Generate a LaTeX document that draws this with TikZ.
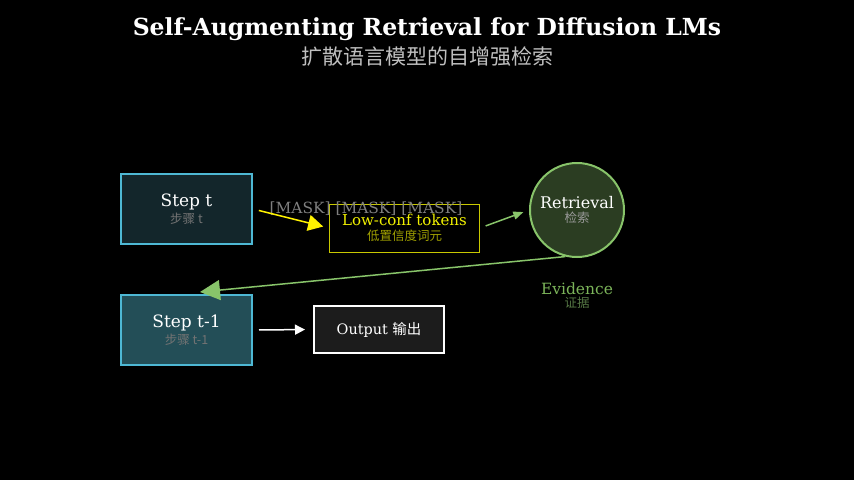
\documentclass[tikz,border=0pt]{standalone}
\usepackage{fontspec}
\setmainfont{DejaVu Serif}
\newfontfamily\cjk{Noto Sans CJK SC}
\usetikzlibrary{arrows.meta}
\usepackage{xcolor}
\definecolor{bgblack}{HTML}{000000}
\definecolor{stepedge}{HTML}{4EB8D4}
\definecolor{stepfill}{HTML}{13262B}
\definecolor{prevfill}{HTML}{234E57}
\definecolor{tokedge}{HTML}{C8C800}
\definecolor{toktext}{HTML}{F0F000}
\definecolor{toksub}{HTML}{A0A000}
\definecolor{retfill}{HTML}{2B3D22}
\definecolor{retedge}{HTML}{88C46A}
\definecolor{evtext}{HTML}{7CB55A}
\definecolor{evsub}{HTML}{557744}
\definecolor{outfill}{HTML}{1C1C1C}
\newcommand{\subcn}{\cjk\fontsize{12.5}{14}\selectfont}

\tikzset{
  stepbox/.style={draw=stepedge, line width=2pt, minimum width=131pt, minimum height=70pt,
    inner sep=0pt, align=center, text=white, font=\fontsize{17}{18}\selectfont},
  conn/.style={line width=1.5pt}
}

\begin{document}
\begin{tikzpicture}[x=1pt, y=-1pt]
% background, coordinates are pixels measured from the top left corner
\fill[bgblack] (0,0) rectangle (854,480);
\useasboundingbox (0,0) rectangle (854,480);

% title
\node (title) at (427,35) [anchor=base, text=white, font=\bfseries\fontsize{23.5}{25}\selectfont] {Self-Augmenting Retrieval for Diffusion LMs};
\node (subtitle) at (427,64) [anchor=base, text=black!25!white, font=\cjk\fontsize{21}{23}\selectfont] {扩散语言模型的自增强检索};

% steps
\node (stept) at (186.5,209) [stepbox, fill=stepfill] {Step t\\[-1pt]{\subcn\color{black!55!white}步骤 t}};
\node (stepprev) at (186.5,330) [stepbox, fill=prevfill] {Step t-1\\[-1pt]{\subcn\color{black!55!white}步骤 t-1}};

% tokens, retrieval and output
\node (lowconf) at (404.5,228) [draw=tokedge, line width=1pt, minimum width=150pt, minimum height=48pt, inner sep=0pt,
  align=center, text=toktext, font=\fontsize{15}{17}\selectfont] {Low-conf tokens\\[-2pt]{\subcn\color{toksub}低置信度词元}};
\node (masks) at (366,209) [text=black!50!white, font=\fontsize{15.4}{17}\selectfont] {[MASK] [MASK] [MASK]};
\node (retrieval) at (577,210) [circle, draw=retedge, fill=retfill, line width=2pt, minimum size=94pt, inner sep=0pt,
  align=center, text=white, font=\fontsize{16}{18}\selectfont] {Retrieval\\[-4pt]{\subcn\color{black!40!white}检索}};
\node (evidence) at (577,295.5) [align=center, text=evtext, font=\fontsize{15.5}{17}\selectfont] {Evidence\\[-4pt]{\subcn\color{evsub}证据}};
\node (output) at (379,329.5) [draw=white, fill=outfill, line width=2pt, minimum width=130pt, minimum height=47pt, inner sep=0pt,
  text=white, font=\fontsize{14.4}{16}\selectfont] {Output {\cjk 输出}};

% connectors
\draw[conn, yellow, shorten <=6pt, shorten >=6pt, -{Triangle[length=15pt, width=16pt]}] (stept.east) -- (lowconf.west);
\draw[conn, retedge, shorten <=6pt, shorten >=6pt, -{Triangle[length=10pt, width=8pt]}] (lowconf.east) -- (retrieval.west);
\draw[conn, retedge, -{Triangle[length=20pt, width=20pt]}] (retrieval.256) -- ([xshift=13.5pt, yshift=2pt]stepprev.north);
\draw[conn, white, shorten <=6pt, shorten >=8pt, -{Triangle[length=10pt, width=10pt]}] (stepprev.east) -- (output.west);
\end{tikzpicture}
\end{document}
